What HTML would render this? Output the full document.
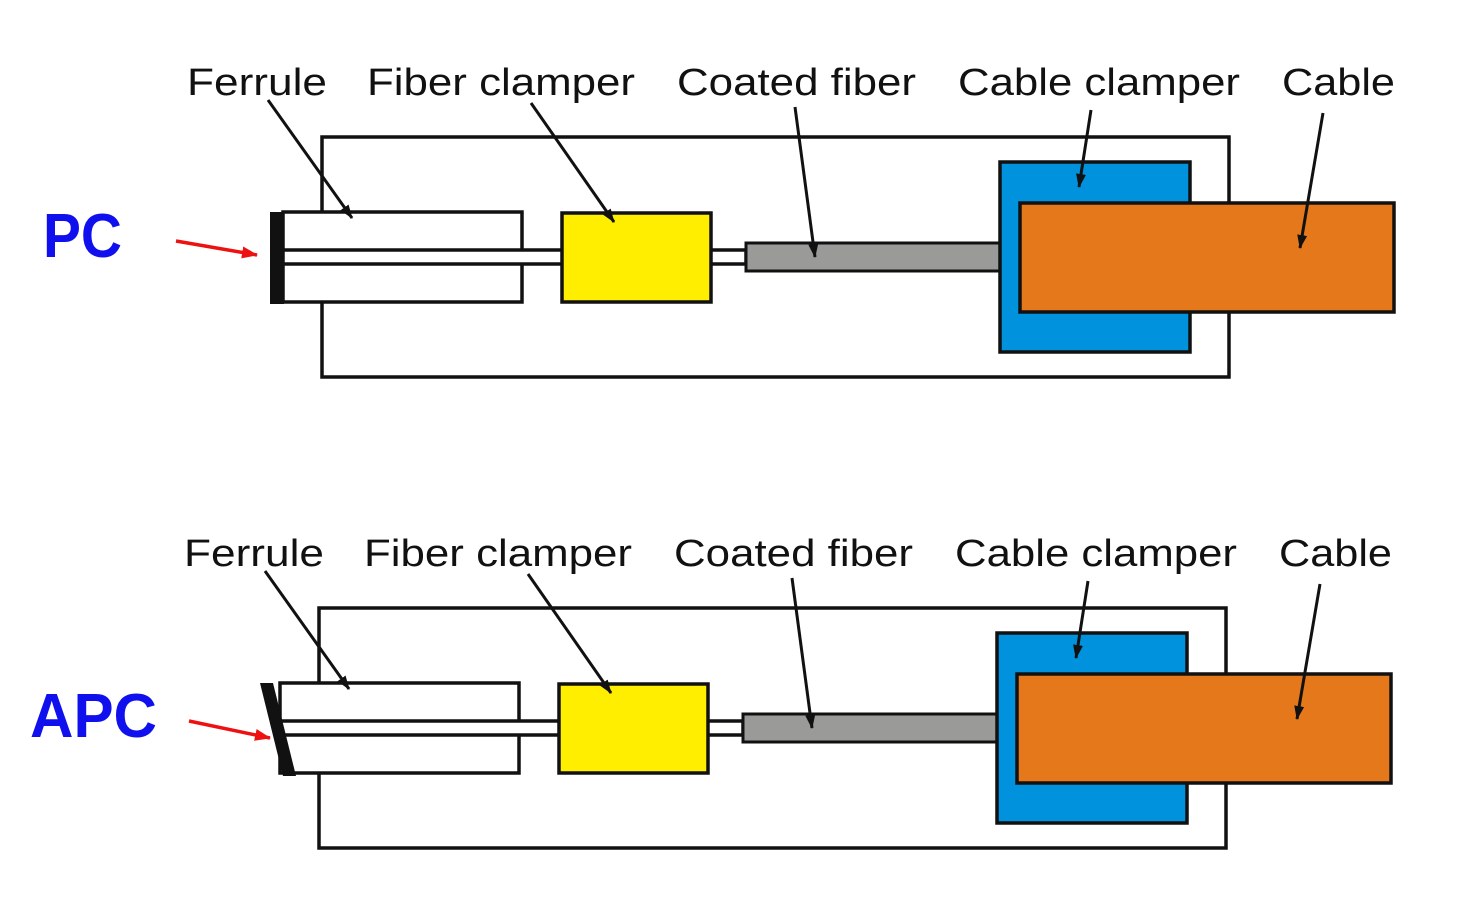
<!DOCTYPE html>
<html><head><style>
html,body{margin:0;padding:0;background:#fff;}
svg{display:block;}
text{font-family:"Liberation Sans",sans-serif;}
</style></head><body>
<svg width="1460" height="910" viewBox="0 0 1460 910" xmlns="http://www.w3.org/2000/svg">
<defs>
<marker id="ah" markerWidth="14" markerHeight="12" refX="13" refY="6" orient="auto" markerUnits="userSpaceOnUse">
<path d="M0,1 L14,6 L0,11 Z" fill="#111"/></marker>
<marker id="rh" markerWidth="16" markerHeight="14" refX="15" refY="7" orient="auto" markerUnits="userSpaceOnUse">
<path d="M0,1 L16,7 L0,13 Z" fill="#ee1111"/></marker>
<g id="diag">
<rect x="322" y="137" width="907" height="240" fill="none" stroke="#111" stroke-width="3.5"/>
<rect x="283" y="212" width="239" height="90" fill="#fff" stroke="#111" stroke-width="3.5"/>
<rect x="283" y="250" width="463" height="14" fill="#fff" stroke="#111" stroke-width="3.5"/>
<rect x="562" y="213" width="149" height="89" fill="#ffee00" stroke="#111" stroke-width="3.5"/>
<rect x="746" y="243" width="274" height="28" fill="#9a9a98" stroke="#111" stroke-width="3"/>
<rect x="1000" y="162" width="190" height="190" fill="#0092dc" stroke="#111" stroke-width="3.5"/>
<rect x="1020" y="203" width="374" height="109" fill="#e5781a" stroke="#111" stroke-width="3.5"/>
<g fill="#111" font-size="38">
<text x="187" y="95" textLength="140" lengthAdjust="spacingAndGlyphs">Ferrule</text>
<text x="367" y="95" textLength="268" lengthAdjust="spacingAndGlyphs">Fiber clamper</text>
<text x="677" y="95" textLength="239" lengthAdjust="spacingAndGlyphs">Coated fiber</text>
<text x="958" y="95" textLength="282" lengthAdjust="spacingAndGlyphs">Cable clamper</text>
<text x="1282" y="95" textLength="113" lengthAdjust="spacingAndGlyphs">Cable</text>
</g>
<g stroke="#111" stroke-width="3" marker-end="url(#ah)">
<line x1="268" y1="100" x2="352" y2="218"/>
<line x1="531" y1="103" x2="614" y2="222"/>
<line x1="795" y1="107" x2="815" y2="257"/>
<line x1="1091" y1="110" x2="1079" y2="187"/>
<line x1="1323" y1="113" x2="1300" y2="248"/>
</g>
</g>
</defs>
<use href="#diag"/>
<rect x="270" y="212" width="14" height="92" fill="#111"/>
<text x="43" y="257" font-size="62" font-weight="bold" fill="#1010ee" textLength="79" lengthAdjust="spacingAndGlyphs">PC</text>
<line x1="176" y1="241" x2="257" y2="255" stroke="#ee1111" stroke-width="3.5" marker-end="url(#rh)"/>

<use href="#diag" transform="translate(-3,471)"/>
<polygon points="260,683 273,683 296,776 283,776" fill="#111"/>
<text x="30" y="737" font-size="62" font-weight="bold" fill="#1010ee" textLength="127" lengthAdjust="spacingAndGlyphs">APC</text>
<line x1="189" y1="721" x2="270" y2="738" stroke="#ee1111" stroke-width="3.5" marker-end="url(#rh)"/>
</svg>
</body></html>
